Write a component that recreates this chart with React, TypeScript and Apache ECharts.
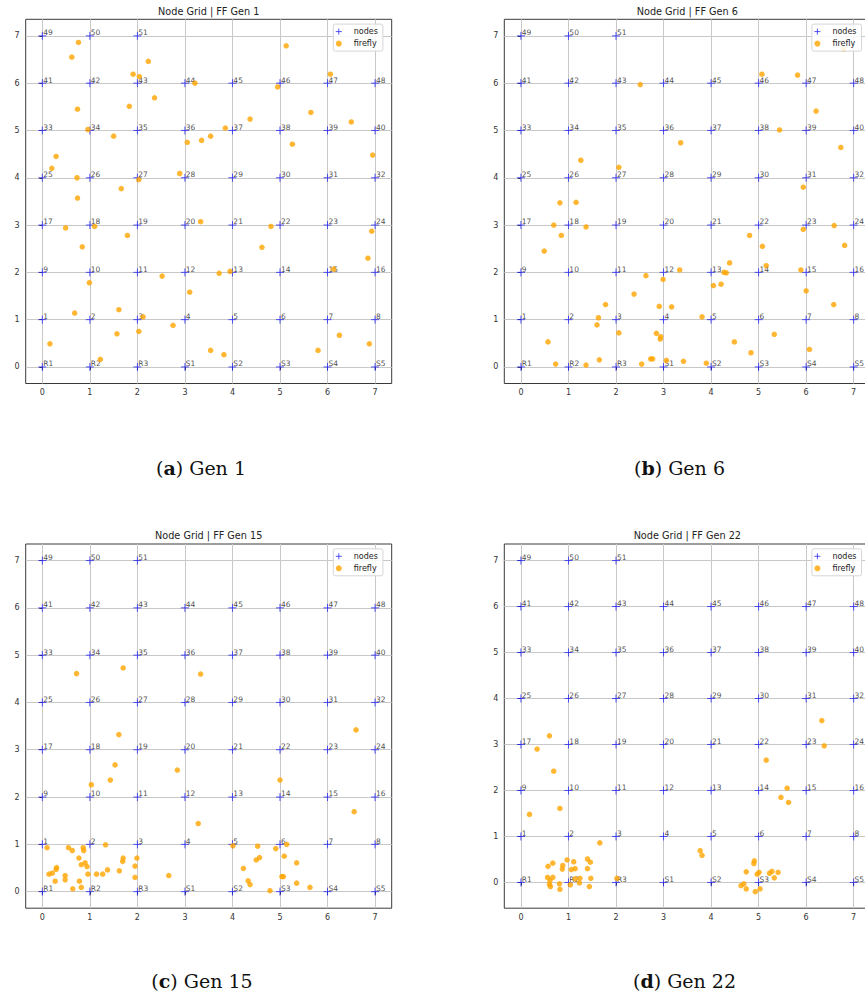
import React, { useEffect, useRef } from 'react';
import * as echarts from 'echarts';

// ---------- data ----------
const AXIS_TICKS = [0, 1, 2, 3, 4, 5, 6, 7];

// node labels by row (row index = y, column index = x)
const NODE_ROWS: string[][] = [
  ['R1', 'R2', 'R3', 'S1', 'S2', 'S3', 'S4', 'S5'],
  ['1', '2', '3', '4', '5', '6', '7', '8'],
  ['9', '10', '11', '12', '13', '14', '15', '16'],
  ['17', '18', '19', '20', '21', '22', '23', '24'],
  ['25', '26', '27', '28', '29', '30', '31', '32'],
  ['33', '34', '35', '36', '37', '38', '39', '40'],
  ['41', '42', '43', '44', '45', '46', '47', '48'],
  ['49', '50', '51'],
];

const PANEL_TITLES = [
  'Node Grid | FF Gen 1',
  'Node Grid | FF Gen 6',
  'Node Grid | FF Gen 15',
  'Node Grid | FF Gen 22',
];
const CAPTION_LETTERS = ['a', 'b', 'c', 'd'];
const CAPTION_TEXTS = ['Gen 1', 'Gen 6', 'Gen 15', 'Gen 22'];

const X_RANGE = [-0.35, 7.35];
const Y_MIN = [-0.35, -0.35, -0.35, -0.56];
const Y_MAX = [7.35, 7.35, 7.35, 7.36];

const GEN1: number[][] = [
  [0.76, 6.86], [0.62, 6.55], [5.13, 6.79], [2.23, 6.46], [1.91, 6.19], [2.04, 6.14],
  [3.21, 6.0], [6.06, 6.19], [4.95, 5.92], [2.36, 5.69], [0.74, 5.45], [1.83, 5.51],
  [5.65, 5.38], [4.37, 5.24], [6.5, 5.18], [0.96, 5.02], [1.5, 4.88], [3.85, 5.05],
  [3.54, 4.88], [3.35, 4.79], [3.05, 4.75], [5.26, 4.71], [6.95, 4.48], [0.29, 4.45],
  [0.2, 4.2], [0.73, 4.0], [2.89, 4.09], [2.03, 3.96], [1.66, 3.77], [0.74, 3.57],
  [0.49, 2.94], [1.1, 2.97], [3.33, 3.07], [4.81, 2.97], [6.93, 2.87], [1.79, 2.78],
  [0.84, 2.54], [4.62, 2.53], [6.85, 2.3], [2.52, 1.92], [3.72, 1.98], [3.95, 2.02],
  [6.13, 2.07], [0.99, 1.78], [3.1, 1.58], [0.68, 1.14], [1.61, 1.21], [2.12, 1.06],
  [2.75, 0.88], [1.57, 0.7], [2.03, 0.75], [6.25, 0.67], [0.16, 0.49], [6.88, 0.49],
  [3.54, 0.35], [5.8, 0.35], [3.82, 0.26], [1.22, 0.16],
];

const GEN6: number[][] = [
  [6.79, 6.72], [5.07, 6.19], [5.82, 6.17], [2.51, 5.97], [6.21, 5.41], [5.44, 5.01],
  [3.36, 4.74], [6.73, 4.64], [1.26, 4.37], [2.06, 4.22], [5.94, 3.8], [0.82, 3.47],
  [1.16, 3.48], [0.69, 3.0], [1.37, 2.96], [6.59, 2.99], [5.94, 2.91], [0.85, 2.78],
  [4.81, 2.78], [6.81, 2.57], [5.08, 2.55], [0.49, 2.45], [4.39, 2.2], [5.16, 2.14],
  [3.34, 2.05], [4.27, 2.0], [4.32, 1.99], [5.89, 2.05], [2.63, 1.93], [2.99, 1.85],
  [4.21, 1.75], [4.05, 1.72], [6.0, 1.61], [2.38, 1.54], [1.78, 1.32], [6.58, 1.32],
  [2.91, 1.28], [3.17, 1.27], [1.63, 1.04], [3.81, 1.06], [1.6, 0.89], [2.06, 0.72],
  [2.85, 0.71], [5.33, 0.69], [2.94, 0.64], [2.93, 0.59], [0.57, 0.53], [4.49, 0.53],
  [6.07, 0.37], [4.84, 0.3], [2.73, 0.17], [2.77, 0.17], [1.65, 0.15], [3.06, 0.14],
  [3.42, 0.12], [3.9, 0.08], [2.54, 0.06], [0.73, 0.06], [1.37, 0.04],
];

const GEN15: number[][] = [
  [0.72, 4.61], [1.7, 4.73], [3.33, 4.6], [6.6, 3.42], [1.61, 3.32], [1.53, 2.68],
  [2.84, 2.57], [1.43, 2.36], [5.0, 2.36], [1.03, 2.26], [6.56, 1.69], [3.28, 1.44],
  [0.1, 0.93], [0.55, 0.93], [0.63, 0.87], [0.86, 0.93], [0.87, 0.87], [1.33, 0.99],
  [4.01, 0.97], [4.53, 0.96], [5.14, 1.0], [4.91, 0.91], [0.77, 0.71], [1.7, 0.71],
  [1.99, 0.71], [1.69, 0.64], [4.57, 0.72], [4.5, 0.67], [5.09, 0.75], [0.3, 0.51],
  [0.29, 0.47], [4.23, 0.49], [5.35, 0.61], [0.9, 0.61], [0.82, 0.57], [0.94, 0.53],
  [1.37, 0.46], [1.95, 0.54], [0.21, 0.39], [0.14, 0.37], [0.48, 0.34], [1.14, 0.37],
  [0.96, 0.37], [1.27, 0.37], [1.62, 0.44], [2.66, 0.34], [5.07, 0.32], [5.04, 0.32],
  [1.95, 0.3], [0.48, 0.25], [0.27, 0.22], [0.78, 0.22], [4.33, 0.23], [4.37, 0.15],
  [5.35, 0.18], [0.82, 0.09], [0.64, 0.06], [5.63, 0.09], [4.79, 0.02],
];

const GEN22: number[][] = [
  [6.33, 3.52], [0.6, 3.19], [6.38, 2.97], [0.34, 2.9], [5.16, 2.66], [0.69, 2.42],
  [5.6, 2.05], [5.47, 1.85], [5.63, 1.74], [0.82, 1.61], [0.18, 1.48], [1.66, 0.86],
  [3.77, 0.69], [3.81, 0.59], [0.97, 0.49], [1.4, 0.51], [1.46, 0.44], [1.11, 0.45],
  [4.91, 0.47], [4.9, 0.41], [0.67, 0.42], [0.88, 0.37], [0.57, 0.35], [0.87, 0.29],
  [1.14, 0.3], [1.06, 0.28], [1.4, 0.3], [4.74, 0.23], [5.28, 0.24], [5.23, 0.2],
  [5.41, 0.22], [5.01, 0.22], [4.97, 0.18], [5.33, 0.1], [0.56, 0.11], [0.67, 0.11],
  [1.47, 0.09], [2.02, 0.09], [1.24, 0.09], [0.61, 0.04], [1.14, 0.08], [0.6, -0.04],
  [0.81, -0.03], [1.04, -0.05], [1.23, -0.01], [0.62, -0.09], [1.44, -0.09], [0.82, -0.15],
  [4.63, -0.07], [4.69, -0.03], [4.74, -0.14], [5.03, -0.14], [4.93, -0.2],
];

const FIREFLIES = [GEN1, GEN6, GEN15, GEN22];

// ---------- layout (pixels) ----------
const GRID_LEFT = [25.7, 504.3, 25.7, 504.3];
const GRID_TOP = [19.3, 19.3, 544, 544];
const GRID_W = 366;
const GRID_H = 364.2;
const TITLE_Y = [11, 11, 535.3, 535.3];
const CAPTION_X = [201, 679.5, 202, 684.5];
const CAPTION_Y = [467.5, 467.5, 981, 981];

const PLUS = 'path://M5,0L5,10M0,5L10,5';
const SANS = 'DejaVu Sans';
const NODE_BLUE = '#2a2af2';
const FF_ORANGE = '#ffa500';

function buildOption() {
  const nodeData = NODE_ROWS.flatMap((row, y) => row.map((name, x) => [x, y, name]));
  const idx = [0, 1, 2, 3];

  const grid = idx.map((i) => ({
    left: GRID_LEFT[i],
    top: GRID_TOP[i],
    width: GRID_W,
    height: GRID_H,
    show: true,
    backgroundColor: '#ffffff',
    borderColor: '#3a3a3a',
    borderWidth: 1,
    containLabel: false,
    outerBoundsMode: 'none',
  }));

  const axisCommon = {
    type: 'value',
    axisLine: { show: false },
    axisTick: {
      show: true,
      length: 3,
      customValues: AXIS_TICKS,
      lineStyle: { color: '#333', width: 1 },
    },
    axisLabel: {
      customValues: AXIS_TICKS,
      fontSize: 8,
      color: '#333',
      fontFamily: SANS,
    },
    splitLine: { show: true, lineStyle: { color: '#c8c8c8', width: 1 } },
  };

  const xAxis = idx.map((i) => ({
    ...axisCommon,
    gridIndex: i,
    min: X_RANGE[0],
    max: X_RANGE[1],
    axisLabel: { ...axisCommon.axisLabel, margin: 5 },
  }));
  const yAxis = idx.map((i) => ({
    ...axisCommon,
    gridIndex: i,
    min: Y_MIN[i],
    max: Y_MAX[i],
    axisLabel: { ...axisCommon.axisLabel, margin: 6 },
  }));

  const series: any[] = [];
  idx.forEach((i) => {
    series.push({
      type: 'scatter',
      name: 'nodes',
      xAxisIndex: i,
      yAxisIndex: i,
      data: nodeData,
      symbol: PLUS,
      symbolSize: 8,
      z: 2,
      silent: true,
      itemStyle: { color: NODE_BLUE, borderColor: NODE_BLUE, borderWidth: 1 },
      label: {
        show: true,
        formatter: (p: any) => p.data[2],
        position: [5.4, 1.4],
        align: 'left',
        verticalAlign: 'middle',
        fontSize: 7.5,
        fontFamily: SANS,
        color: '#1a1a1a',
      },
      emphasis: { disabled: true },
    });
    series.push({
      type: 'scatter',
      name: 'firefly',
      xAxisIndex: i,
      yAxisIndex: i,
      data: FIREFLIES[i],
      symbol: 'circle',
      symbolSize: 5.5,
      z: 3,
      silent: true,
      itemStyle: { color: FF_ORANGE },
      emphasis: { disabled: true },
    });
  });

  const legend = idx.map((i) => ({
    orient: 'vertical',
    left: GRID_LEFT[i] + 307.6,
    top: GRID_TOP[i] + 4.8,
    padding: [3, 5, 3, 2],
    itemWidth: 20,
    itemHeight: 6,
    itemGap: 3,
    selectedMode: false,
    backgroundColor: 'rgba(255,255,255,0.85)',
    borderColor: '#d6d6d6',
    borderWidth: 1,
    borderRadius: 2,
    textStyle: { fontSize: 8, lineHeight: 9, color: '#222', fontFamily: SANS },
    data: [
      {
        name: 'nodes',
        icon: PLUS,
        itemStyle: { color: NODE_BLUE, borderColor: NODE_BLUE, borderWidth: 1 },
      },
      { name: 'firefly', icon: 'circle', itemStyle: { color: FF_ORANGE } },
    ],
  }));

  const graphic: any[] = [];
  idx.forEach((i) => {
    graphic.push({
      type: 'text',
      x: GRID_LEFT[i] + GRID_W / 2,
      y: TITLE_Y[i],
      style: {
        text: PANEL_TITLES[i],
        fontSize: 9.7,
        fontFamily: SANS,
        fill: '#222',
        align: 'center',
        verticalAlign: 'middle',
        textAlign: 'center',
        textVerticalAlign: 'middle',
      },
    });
    graphic.push({
      type: 'text',
      x: CAPTION_X[i],
      y: CAPTION_Y[i],
      style: {
        text: '({b|' + CAPTION_LETTERS[i] + '}) ' + CAPTION_TEXTS[i],
        fontSize: 19,
        fontFamily: 'DejaVu Serif',
        fill: '#111',
        align: 'center',
        verticalAlign: 'middle',
        textAlign: 'center',
        textVerticalAlign: 'middle',
        rich: {
          b: { fontSize: 19, fontFamily: 'DejaVu Serif', fontWeight: 'bold', fill: '#111' },
        },
      },
    });
  });

  return {
    animation: false,
    backgroundColor: '#ffffff',
    grid,
    xAxis,
    yAxis,
    series,
    legend,
    graphic,
  };
}

export default function App() {
  const ref = useRef<HTMLDivElement>(null);
  useEffect(() => {
    if (!ref.current) return;
    const chart = echarts.init(ref.current, undefined, { renderer: 'svg' });
    chart.setOption(buildOption() as any);
    return () => chart.dispose();
  }, []);
  return (
    <div
      ref={ref}
      style={{ position: 'absolute', left: 0, top: 0, width: 865, height: 1005, background: '#fff' }}
    />
  );
}
